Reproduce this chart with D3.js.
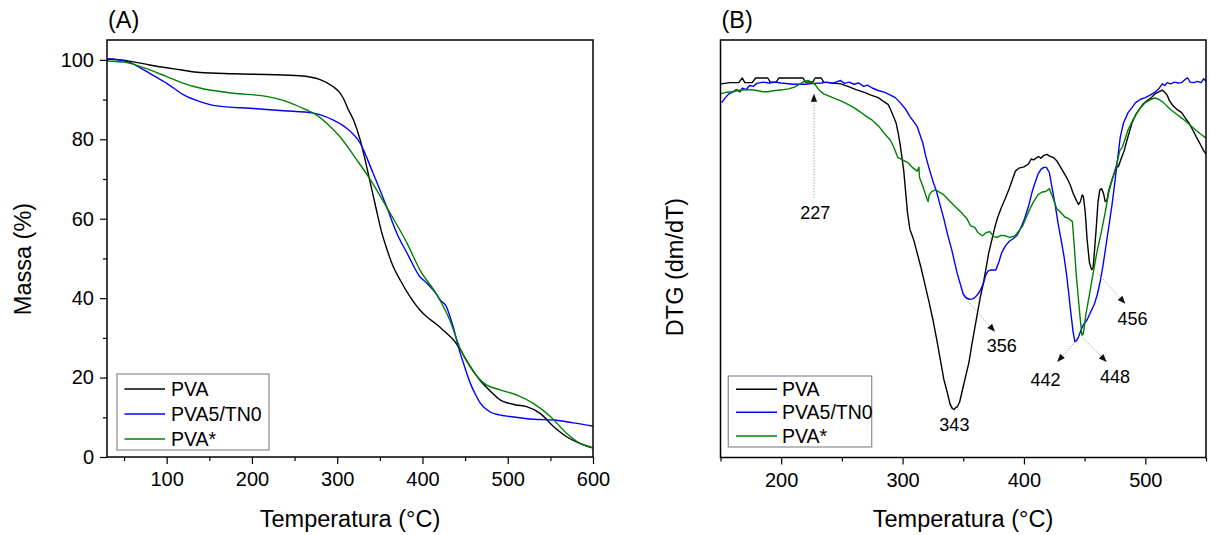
<!DOCTYPE html>
<html><head><meta charset="utf-8">
<script src="https://cdn.jsdelivr.net/npm/d3@7"></script>
<style>
body{margin:0;background:#fff}
svg{display:block}
text{font-family:"Liberation Sans",Arial,Helvetica,sans-serif;fill:#000}
</style>
</head><body>
<svg id="chart" width="1211" height="535"></svg>
<script>
// ---------- DATA ----------
const seriesNames  = ["PVA", "PVA5/TN0", "PVA*"];
const seriesColors = ["#000000", "#0000ff", "#008000"];

// Panel A – TGA (mass %)
const tgaT_PVA = [30,53,80,100,116,139,178,217,256,280,295,302,307,313,319,327,332,338,342,346,351,358,365,374,385,397,405,416,428,436,444,452,460,468,480,491,500,510,522,538,554,569,585,600];
const tgaM_PVA = [100.2,99.8,98.7,98.0,97.5,96.8,96.5,96.3,96.0,95.0,93.3,92.0,90.4,87.5,84.9,79.8,75.5,69.8,66.0,62.2,57.5,52.5,48.3,44.5,40.5,37.0,35.3,33.5,31.2,29.6,27.2,24.2,21.5,19.2,16.5,14.4,13.6,13.1,12.7,11.0,7.6,5.1,3.4,2.3];

const tgaT_TN0 = [30,53,65,80,100,120,139,159,198,237,272,295,311,327,342,358,370,382,397,405,417,421,428,432,436,442,449,456,462,468,479,490,503,530,554,577,600];
const tgaM_TN0 = [100.3,99.6,98.5,96.6,94.1,91.2,89.5,88.4,87.8,87.2,86.6,84.9,82.8,79.0,71.5,63.0,56.3,51.3,45.4,43.8,40.8,39.5,37.9,35.5,32.8,27.8,23.0,18.6,15.8,13.5,11.4,10.6,10.2,9.5,9.3,8.6,7.8];

const tgaT_STAR = [30,53,80,100,120,139,178,217,241,264,272,288,303,323,339,362,382,397,417,432,444,456,472,491,511,530,550,569,585,600];
const tgaM_STAR = [99.7,99.3,97.5,95.8,94.1,92.9,91.6,90.8,89.5,87.4,86.6,84.0,80.7,74.8,69.8,61.4,53.8,47.1,40.8,34.5,27.4,22.7,18.6,16.9,15.6,13.5,10.2,6.0,3.4,2.3];

// Panel B – DTG (arbitrary units)
const dtgT_PVA = [150.4,158,165,168,170,176,179,189,191,196,198,218,220,226,228,233,235,249,255,261.6,268,274,280,283.7,288,290,292.5,294.7,296.5,297.9,299.5,301,302.5,304,306,309,312,315,318,321.6,325,328,331,334,337,339,341,342.5,344,345,347,350,352,354.7,357,359.5,362,364,367,369,371,373.7,376,378,381,384.7,388,391,393,395.8,400,403.7,406,408,410,412,414,416,419,421,424,427,430,433.7,436,438,440.5,443,445,446.5,448,449,450.5,452,454,455.8,457,458,459.5,461,462.5,464,465.5,467,468.5,470,473,476,478,480,482.6,485,489,492,495,498,501,505,508,511,514,516,518,520,523,526,530,533,536,539,542,545,548,550];
const dtgV_PVA = [89.5,89.8,89.8,90.9,89.8,89.8,90.9,90.9,89.9,89.9,90.9,90.9,89.9,89.9,90.9,90.9,89.9,89.5,88.9,88.1,87.5,86.8,86.2,85.4,84.6,83.4,81.7,80.1,77.6,75.2,71.9,68.6,63.7,58.8,54.7,52.3,49.0,45.7,42.0,37.5,33.0,28.5,23.6,18.7,15.4,12.9,11.7,11.5,12.0,12.1,13.3,17.0,19.5,22.8,26.9,31.0,35.1,38.3,42.4,45.7,49.0,52.3,55.1,57.2,59.6,62.1,64.5,67.0,68.6,69.3,69.6,70.3,71.5,71.3,71.7,72.1,71.7,72.3,72.6,72.2,71.9,71.1,69.6,67.8,66.6,65.4,63.3,61.7,60.6,61.3,62.9,62.5,58.8,52.3,46.6,45.0,45.4,49.0,54.7,61.1,64.1,64.4,63.3,61.3,61.7,64.1,66.9,69.4,69.8,71.5,73.5,76.1,80.1,82.1,83.4,84.6,85.4,86.2,87.1,87.6,88.0,87.5,86.8,85.4,84.2,83.4,82.6,81.3,80.1,78.5,76.8,75.2,73.5,72.7];

const dtgT_TN0 = [151,154,157,160,163,166,168,171,174,177,180,185,190,195,200,210,220,227,233,238,242,245,249,252,256,260,264,268,271,275,280,285,290,294,298,302.6,306,309,312,314.5,316.8,319,321.6,325,328,331,334,337,340.5,343,345,347.5,350,352.5,355,357.5,359.5,362,364,366.5,368.5,370.5,373,376.8,379,381.6,385,388,391,394,397,400.5,404,406.8,409,411.5,414,416.3,418.5,421,423,425.8,428,430.5,433,435,437,438.5,440.5,442,443.5,445,447,449,452,455.4,458,460.5,463,465,467.5,470,472.5,474.7,477,479.4,482,485.8,489,492,496,500,504,508,511,514,516,518,521,524,527,530,533,535,537,540,543,546,548,550];
const dtgV_TN0 = [85.0,86.2,87.1,87.5,88.1,87.6,88.5,88.1,89.1,88.9,89.6,89.9,89.7,89.9,89.7,89.4,89.4,89.6,89.7,89.9,89.6,89.9,90.3,89.6,89.9,89.4,89.7,88.9,89.2,88.5,87.9,87.5,86.8,86.2,85.0,83.4,81.7,80.5,79.3,77.2,75.2,72.3,69.5,66.2,63.7,60.4,57.2,53.5,49.8,46.6,44.1,41.6,39.1,38.2,37.9,38.0,38.3,39.1,40.0,41.6,43.7,44.7,44.9,44.9,46.5,49.0,50.8,51.8,52.4,53.1,54.7,57.2,60.4,63.7,65.7,67.8,69.0,69.5,69.5,68.2,64.9,60.4,56.3,52.3,48.2,44.1,39.1,35.0,30.1,27.7,28.1,28.9,30.5,31.8,33.0,35.1,36.7,39.1,42.4,45.7,50.6,55.5,60.4,65.4,71.1,76.8,80.1,82.6,83.8,85.0,85.8,86.2,86.8,87.5,88.3,89.5,89.1,89.8,89.5,89.9,89.7,89.8,90.6,90.9,89.9,89.8,90.1,89.8,90.7,90.1];

const dtgT_STAR = [150,155,160,164,170,175,180,185,189,195,201.6,206,211,215,219,222,225,228,231,235,240,245,250,255,260,265,270,275,280.5,285,290,293,296,300,304,308,312,313.5,314,316.8,319,321,322,324,327,330,334,338,343.7,348,353,356,359.5,362,365.8,369,372,375,378,381,384.7,388,392.6,396,399,402,405,408,411.5,415,418,421,424,427,430,433.7,437,439.9,441.5,443,445,446.5,447.8,449,451,454,457,460,463.7,467,470,473,476.5,479,481,483,485.8,490,495,500,504.7,508,511,515,520.5,525,530,535,540,545,550];
const dtgV_STAR = [87.1,87.5,87.6,87.9,88.1,88.1,87.9,87.6,87.6,87.9,88.1,88.3,88.7,89.4,90.1,90.3,89.9,89.3,88.1,87.1,86.5,85.9,85.3,84.6,83.8,82.8,81.7,80.8,79.3,77.6,76.0,74.2,71.9,71.3,70.7,69.5,68.6,69.5,67.0,64.9,62.9,61.3,62.9,63.7,64.1,63.6,62.9,61.7,60.0,58.8,57.2,55.5,55.1,53.9,53.1,53.9,54.1,52.9,52.7,53.2,53.1,52.7,53.1,54.3,55.5,57.6,59.6,61.3,62.9,63.6,63.7,64.4,62.1,59.6,58.8,57.6,57.2,56.5,50.6,44.1,37.6,32.8,29.3,29.7,34.2,39.1,44.1,49.0,53.9,58.8,63.7,66.9,70.3,73.5,74.3,76.0,78.5,81.0,83.4,85.0,85.8,86.1,85.8,85.0,83.4,82.4,81.3,80.1,78.8,77.6,76.5];

// Axis tick values
const tgaXTicks  = [100, 200, 300, 400, 500, 600];
const tgaXMinor  = [50, 150, 250, 350, 450, 550];
const tgaYTicks  = [0, 20, 40, 60, 80, 100];
const tgaYMinor  = [10, 30, 50, 70, 90];
const dtgXTicks  = [200, 300, 400, 500];
const dtgXMinor  = [150, 250, 350, 450, 550];

// Peak annotations on panel B (temperature labels)
const peakLabels = ["227", "356", "343", "442", "448", "456"];
const peakFrom   = [[227, 62.2], [350.5, 38.5], null, [442.1, 27.7], [447.6, 28.9], [460.4, 44.2]];
const peakTo     = [[227, 87.1], [376.2, 30.1], null, [427.4, 22.9], [468.2, 22.9], [483.6, 36.8]];
const peakText   = [[228, 57.1], [381.7, 25.2], [342.7, 6.3], [417.8, 17.1], [475.1, 17.8], [489.4, 31.7]];

// ---------- DRAW ----------
const svg = d3.select("#chart");
const FONT_TICK = 20, FONT_TITLE = 23.5, FONT_LEG = 19.5, FONT_ANN = 18;

function makeSeries(Ts, Vs){ return Ts.map((t,i)=>({t, v: Vs[i]})); }
const tgaSeries = [makeSeries(tgaT_PVA,tgaM_PVA), makeSeries(tgaT_TN0,tgaM_TN0), makeSeries(tgaT_STAR,tgaM_STAR)];
const dtgSeries = [makeSeries(dtgT_PVA,dtgV_PVA), makeSeries(dtgT_TN0,dtgV_TN0), makeSeries(dtgT_STAR,dtgV_STAR)];

function panel(opts){
  const {x0,x1,y0,y1,xDom,yDom,xTicks,xMinor,yTicks,yMinor,series,curve,label,yTitle,yTitleX,xTitleX,legend,id} = opts;
  const x = d3.scaleLinear().domain(xDom).range([x0,x1]);
  const y = d3.scaleLinear().domain(yDom).range([y1,y0]);
  const g = svg.append("g");

  g.append("clipPath").attr("id","clip"+id).append("rect")
    .attr("x",x0).attr("y",y0).attr("width",x1-x0).attr("height",y1-y0);

  // x axis
  const xa = g.append("g").attr("transform",`translate(0,${y1})`)
    .call(d3.axisBottom(x).tickValues(xTicks).tickSize(7).tickPadding(8).tickFormat(d3.format("d")));
  xa.select(".domain").remove();
  xa.selectAll("text").attr("font-size",FONT_TICK).attr("dy","0.71em");
  xa.selectAll("line").attr("stroke","#000").attr("stroke-width",1.2);
  const xm = g.append("g").attr("transform",`translate(0,${y1})`)
    .call(d3.axisBottom(x).tickValues(xMinor).tickSize(4).tickFormat(""));
  xm.select(".domain").remove();
  xm.selectAll("line").attr("stroke","#000").attr("stroke-width",1.2);

  if (yTicks){
    const ya = g.append("g").attr("transform",`translate(${x0},0)`)
      .call(d3.axisLeft(y).tickValues(yTicks).tickSize(7).tickPadding(6).tickFormat(d3.format("d")));
    ya.select(".domain").remove();
    ya.selectAll("text").attr("font-size",FONT_TICK);
    ya.selectAll("line").attr("stroke","#000").attr("stroke-width",1.2);
    const ym = g.append("g").attr("transform",`translate(${x0},0)`)
      .call(d3.axisLeft(y).tickValues(yMinor).tickSize(4).tickFormat(""));
    ym.select(".domain").remove();
    ym.selectAll("line").attr("stroke","#000").attr("stroke-width",1.2);
  }

  // lines
  const line = d3.line().x(d=>x(d.t)).y(d=>y(d.v)).curve(curve);
  const lg = g.append("g").attr("clip-path",`url(#clip${id})`);
  series.forEach((s,i)=>{
    lg.append("path").datum(s).attr("d",line).attr("fill","none")
      .attr("stroke",seriesColors[i]).attr("stroke-width",1.4).attr("stroke-linejoin","round");
  });

  // frame
  g.append("rect").attr("x",x0).attr("y",y0).attr("width",x1-x0).attr("height",y1-y0)
    .attr("fill","none").attr("stroke","#000").attr("stroke-width",1.5);

  // legend
  const L = legend;
  g.append("rect").attr("x",L.x).attr("y",L.y).attr("width",L.w).attr("height",L.h)
    .attr("fill","#fff").attr("stroke","#8c8c8c").attr("stroke-width",1.2);
  seriesNames.forEach((n,i)=>{
    const cy = L.rows[i];
    g.append("line").attr("x1",L.lx0).attr("x2",L.lx1).attr("y1",cy).attr("y2",cy)
      .attr("stroke",seriesColors[i]).attr("stroke-width",1.4);
    g.append("text").attr("x",L.tx).attr("y",cy+7).attr("font-size",FONT_LEG).text(n);
  });

  // titles
  g.append("text").attr("x",xTitleX).attr("y",527).attr("text-anchor","middle")
    .attr("font-size",FONT_TITLE).text("Temperatura (°C)");
  g.append("text").attr("transform",`translate(${yTitleX},${opts.yTitleY}) rotate(-90)`)
    .attr("text-anchor","middle").attr("font-size",FONT_TITLE).text(yTitle);
  g.append("text").attr("x",x0+1).attr("y",28).attr("font-size",FONT_TITLE).text(label);

  return {x,y,g};
}

const A = panel({id:"A", x0:107, x1:593, y0:40, y1:457, xDom:[30,600], yDom:[0,105],
  xTicks:tgaXTicks, xMinor:tgaXMinor, yTicks:tgaYTicks, yMinor:tgaYMinor,
  series:tgaSeries, curve:d3.curveMonotoneX, label:"(A)", yTitle:"Massa (%)",
  yTitleX:31, yTitleY:259, xTitleX:350,
  legend:{x:117,y:374,w:152,h:76,lx0:124.5,lx1:165,tx:171,rows:[389,414,439]}});

const B = panel({id:"B", x0:720.5, x1:1206, y0:40, y1:457.5, xDom:[150,550], yDom:[0,100],
  xTicks:dtgXTicks, xMinor:dtgXMinor, yTicks:null,
  series:dtgSeries, curve:d3.curveLinear, label:"(B)", yTitle:"DTG (dm/dT)",
  yTitleX:683, yTitleY:267, xTitleX:963,
  legend:{x:728.3,y:376,w:143.4,h:71,lx0:736,lx1:777,tx:782,rows:[389.3,412.3,436]}});

// annotations
const ag = B.g.append("g");
peakLabels.forEach((lab,i)=>{
  const f = peakFrom[i], t = peakTo[i], p = peakText[i];
  if (f && t){
    const x1 = B.x(f[0]), y1 = B.y(f[1]), x2 = B.x(t[0]), y2 = B.y(t[1]);
    const ang = Math.atan2(y2-y1, x2-x1);
    const len = 8, w = 3.2;
    const bx = x2 - len*Math.cos(ang), by = y2 - len*Math.sin(ang);
    ag.append("line").attr("x1",x1).attr("y1",y1).attr("x2",bx).attr("y2",by)
      .attr("stroke","#9a9a9a").attr("stroke-width",1).attr("stroke-dasharray","1.2,1.6");
    const px = -Math.sin(ang), py = Math.cos(ang);
    ag.append("path").attr("d",`M${x2},${y2}L${bx+px*w},${by+py*w}L${bx-px*w},${by-py*w}Z`)
      .attr("fill","#111");
  }
  ag.append("text").attr("x",B.x(p[0])).attr("y",B.y(p[1])).attr("text-anchor","middle")
    .attr("font-size",FONT_ANN).text(lab);
});
</script>
</body></html>
